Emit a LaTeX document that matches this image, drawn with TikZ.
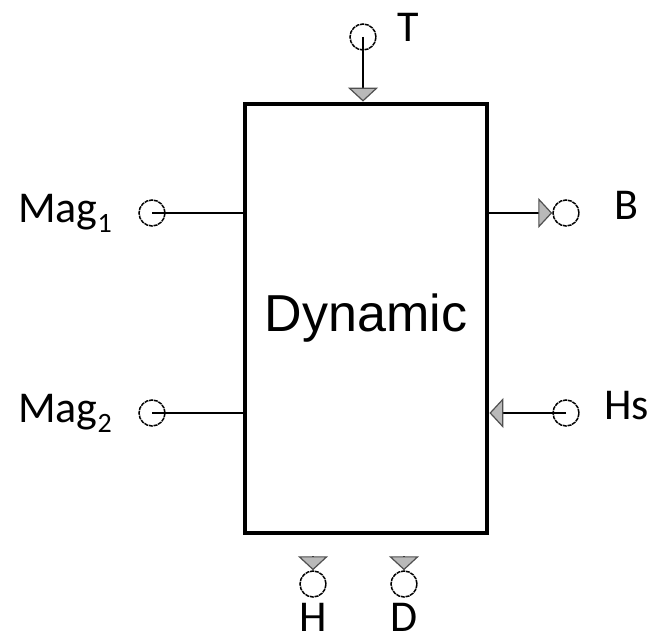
\documentclass[tikz,border=0pt]{standalone}
\usepackage{fontspec}
\setmainfont{Carlito}
\newfontfamily\blockfont{Liberation Sans}
\usetikzlibrary{arrows.meta, positioning}
\definecolor{tipfill}{RGB}{185, 185, 185}
\definecolor{tipline}{RGB}{80, 80, 80}
\newcommand{\portsub}[1]{\raisebox{-5pt}{\fontsize{14}{14}\selectfont #1}}
\tikzset{
    block/.style={rectangle, draw=black, line width=2.4pt, inner sep=0pt, minimum width=121pt, minimum height=214.5pt, font=\blockfont\fontsize{26}{30}\selectfont},
    port/.style={circle, draw=black, line width=0.75pt, dash pattern=on 2pt off 0.4pt, minimum size=13pt, inner sep=0pt},
    portlabel/.style={inner sep=0pt, font=\fontsize{22}{26}\selectfont},
    wire/.style={line width=0.9pt, draw=black},
    sig/.style={wire, -{Triangle[length=7pt, width=15pt, color=tipline, fill=tipfill, line width=0.6pt]}}
}

\begin{document}
\begin{tikzpicture}[x=0.5pt, y=-0.5pt]
    \useasboundingbox (0,0) rectangle (652,641);

    \node (dyn) [block] at (366,318.5) {Dynamic};

    % Ports
    \node (t)    [port] at (363,37) {};
    \node (b)    [port] at (566,213) {};
    \node (hs)   [port] at (566,413) {};
    \node (mag1) [port] at (152,213) {};
    \node (mag2) [port] at (152,413) {};
    \node (h)    [port] at (313,584) {};
    \node (d)    [port] at (404,584) {};
    \coordinate (hin) at ([yshift=7pt]h.north);
    \coordinate (din) at ([yshift=7pt]d.north);

    % Labels
    \node (tlab)    [portlabel, right=10pt of t, yshift=5pt] {T};
    \node (blab)    [portlabel, right=17pt of b, yshift=4pt] {B};
    \node (hslab)   [portlabel, right=12pt of hs, yshift=3.5pt] {Hs};
    \node (mag1lab) [portlabel, left=13pt of mag1] {Mag\portsub{1}};
    \node (mag2lab) [portlabel, left=13pt of mag2] {Mag\portsub{2}};
    \node (hlab)    [portlabel, below=2.5pt of h] {H};
    \node (dlab)    [portlabel, below=2.5pt of d] {D};

    % Arrows
    \draw [sig] (t.center) -- (t.center |- dyn.north);
    \draw [sig] (b -| dyn.east) -- (b);
    \draw [sig] (hs.center) -- (hs.center -| dyn.east);
    \draw [wire] (mag1.center) -- (mag1.center -| dyn.west);
    \draw [wire] (mag2.center) -- (mag2.center -| dyn.west);
    \draw [sig] (hin) -- (h);
    \draw [sig] (din) -- (d);

\end{tikzpicture}
\end{document}
